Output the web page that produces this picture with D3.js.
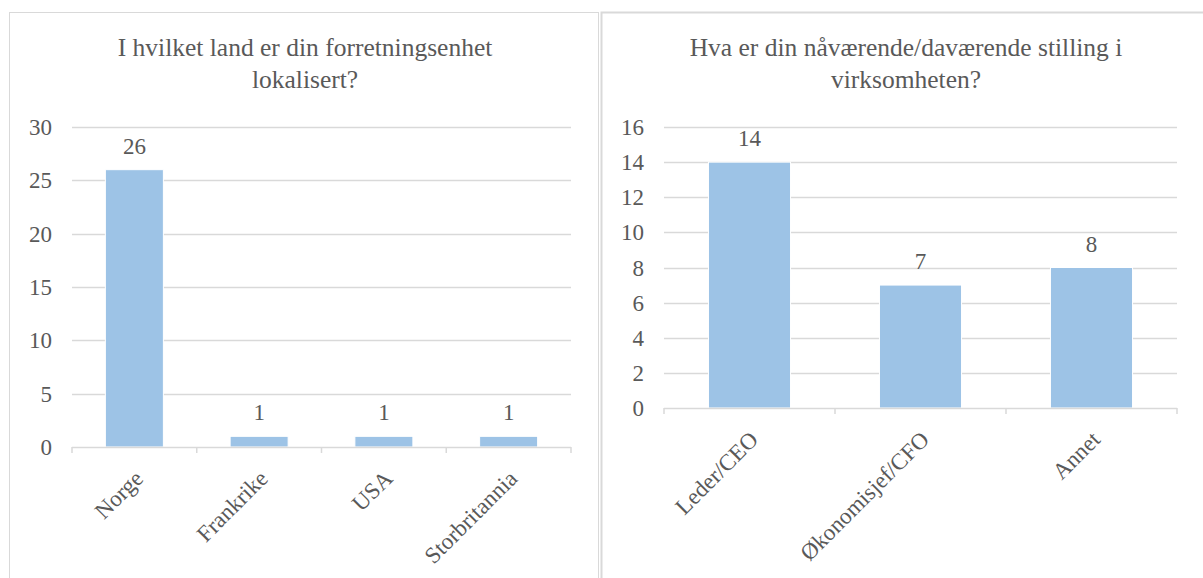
<!DOCTYPE html>
<meta charset="utf-8">
<script src="https://cdn.jsdelivr.net/npm/d3@7/dist/d3.min.js"></script>
<style>
  body { margin: 0; background: #fff; }
</style>
<div id="my_dataviz"></div>
<script>

// chart 1
var title1 = ["I hvilket land er din forretningsenhet", "lokalisert?"];
var countries = ["Norge", "Frankrike", "USA", "Storbritannia"];
var countryCounts = [26, 1, 1, 1];
var ticks1 = [0, 5, 10, 15, 20, 25, 30];

// chart 2
var title2 = ["Hva er din nåværende/daværende stilling i", "virksomheten?"];
var roles = ["Leder/CEO", "Økonomisjef/CFO", "Annet"];
var roleCounts = [14, 7, 8];
var ticks2 = [0, 2, 4, 6, 8, 10, 12, 14, 16];

var W = 1203, H = 578;
var FONT = "'Liberation Serif', 'Times New Roman', serif";
var TXT = "#595959";

var svg = d3.select("#my_dataviz")
  .append("svg")
    .attr("width", W)
    .attr("height", H)
    .style("font-family", FONT);

// panel frames
svg.append("rect")
  .attr("x", 9.5).attr("y", 12.5).attr("width", 589).attr("height", 600)
  .attr("fill", "none").attr("stroke", "#d9d9d9");
svg.append("rect")
  .attr("x", 601.5).attr("y", 12.5).attr("width", 640).attr("height", 600)
  .attr("fill", "none").attr("stroke", "#d9d9d9").attr("stroke-width", 2);

function drawChart(opt) {
  var g = svg.append("g");

  // title
  g.append("text")
    .attr("text-anchor", "middle")
    .style("font-family", FONT)
    .style("font-size", "25.5px")
    .attr("fill", TXT)
    .selectAll("tspan")
    .data(opt.title)
    .enter().append("tspan")
      .attr("x", opt.titleX)
      .attr("y", function(d, i) { return 56 + i * 32; })
      .text(function(d) { return d; });

  var x = d3.scaleBand()
    .domain(opt.cats)
    .range([opt.left, opt.right])
    .paddingInner(opt.pad)
    .paddingOuter(opt.pad / 2);

  var y = d3.scaleLinear()
    .domain([0, d3.max(opt.ticks)])
    .range([opt.bottom, opt.top]);

  // gridlines
  g.append("g")
    .selectAll("line")
    .data(opt.ticks.slice(1))
    .enter().append("line")
      .attr("x1", opt.left).attr("x2", opt.right)
      .attr("y1", function(d) { return Math.round(y(d)) + 0.5; })
      .attr("y2", function(d) { return Math.round(y(d)) + 0.5; })
      .attr("stroke", "#d9d9d9")
      .attr("stroke-width", 1.5);

  // y labels
  g.append("g")
    .selectAll("text")
    .data(opt.ticks)
    .enter().append("text")
      .attr("x", opt.left - 20)
      .attr("y", function(d) { return y(d) + 8; })
      .attr("text-anchor", "end")
      .style("font-family", FONT)
      .style("font-size", "23px")
      .attr("fill", TXT)
      .text(function(d) { return d; });

  // bars
  var n = opt.cats.length;
  g.append("g")
    .selectAll("rect")
    .data(opt.values)
    .enter().append("rect")
      .attr("x", function(d, i) { return x(opt.cats[i]); })
      .attr("width", x.bandwidth())
      .attr("y", function(d) { return y(d); })
      .attr("height", function(d) { return opt.bottom - y(d); })
      .attr("fill", "#9dc3e6")
      .attr("stroke", "#fff")
      .attr("stroke-width", 1);

  // value labels
  g.append("g")
    .selectAll("text")
    .data(opt.values)
    .enter().append("text")
      .attr("x", function(d, i) { return x(opt.cats[i]) + x.bandwidth() / 2; })
      .attr("y", function(d) { return y(d) - 16; })
      .attr("text-anchor", "middle")
      .style("font-family", FONT)
      .style("font-size", "23px")
      .attr("fill", TXT)
      .text(function(d) { return d; });

  // x axis line + ticks at category boundaries
  var step = (opt.right - opt.left) / n;
  var ax = g.append("g").attr("stroke", "#d9d9d9").attr("stroke-width", 1.5);
  ax.append("line")
    .attr("x1", opt.left).attr("x2", opt.right)
    .attr("y1", opt.bottom + 0.5).attr("y2", opt.bottom + 0.5);
  ax.selectAll("line.tk")
    .data(d3.range(n + 1))
    .enter().append("line")
      .attr("class", "tk")
      .attr("x1", function(i) { return opt.left + i * step; })
      .attr("x2", function(i) { return opt.left + i * step; })
      .attr("y1", opt.bottom).attr("y2", opt.bottom + 6);

  // category labels
  g.append("g")
    .selectAll("text")
    .data(opt.cats)
    .enter().append("text")
      .attr("text-anchor", "end")
      .style("font-family", FONT)
      .style("font-size", "23px")
      .attr("fill", TXT)
      .attr("transform", function(d) {
        var cx = x(d) + x.bandwidth() / 2 + 10;
        var cy = opt.bottom + 33;
        return "translate(" + cx + "," + cy + ") rotate(-45)";
      })
      .text(function(d) { return d; });
}

drawChart({
  title: title1, titleX: 305,
  cats: countries, values: countryCounts, ticks: ticks1,
  left: 72, right: 571, top: 127, bottom: 447, pad: 0.535
});

drawChart({
  title: title2, titleX: 906,
  cats: roles, values: roleCounts, ticks: ticks2,
  left: 664, right: 1177, top: 127, bottom: 408, pad: 0.52
});

</script>
